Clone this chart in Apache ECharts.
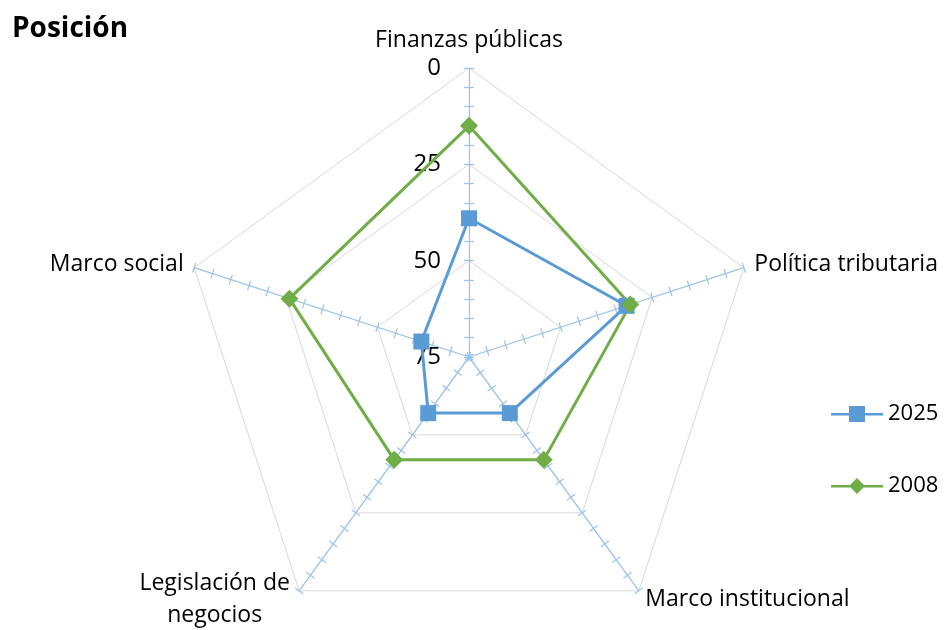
<!DOCTYPE html>
<html>
<head>
<meta charset="utf-8">
<script src="https://cdn.jsdelivr.net/npm/echarts@6/dist/echarts.min.js"></script>
<style>
  html, body { margin: 0; padding: 0; background: #fff; }
  #chart { width: 945px; height: 630px; }
</style>
</head>
<body>
<div id="chart"></div>
<script>
/* posición (ranking): 0 = borde exterior, 75 = centro.
   ECharts recorre el radar en sentido antihorario, por eso el orden es
   Finanzas -> Marco social -> Legislación -> Marco institucional -> Política */
const AXES     = ['Finanzas públicas', 'Marco social', 'Legislación de\nnegocios', 'Marco institucional', 'Política tributaria']
const POS_2025 = [39, 62, 57, 57, 32]
const POS_2008 = [15, 26, 42, 42, 31]
const MAX_POS = 75
const TICK_STEP = 5
const LABEL_STEP = 25

const FONT = '"Open Sans", "Noto Sans", sans-serif'
const AXIS_BLUE = '#9dc3e6'

// el eje está invertido: se dibuja MAX_POS - posición
const flip = arr => arr.map(v => MAX_POS - v)

const baseRadar = {
  center: [469, 357],
  radius: 289,
  startAngle: 90,
  splitNumber: MAX_POS / TICK_STEP,
  shape: 'polygon',
}

const tickLine = { color: AXIS_BLUE, width: 1.2 }

// ajustes finos de las etiquetas de eje
const nameStyles = [
  { padding: [0, 0, 5, 0] },
  {},
  { align: 'center', lineHeight: 32, padding: [0, 156, 0, 0] },
  {},
  {},
]

const chart = echarts.init(document.getElementById('chart'))
chart.setOption({
  backgroundColor: '#fff',
  title: {
    text: 'Posición', left: 7, top: 10,
    textStyle: { fontFamily: FONT, fontSize: 28, fontWeight: 'bold', color: '#000' },
  },
  legend: {
    orient: 'vertical', left: 826, top: 398, itemGap: 50,
    itemWidth: 52, itemHeight: 16,
    textStyle: { fontFamily: FONT, fontSize: 22, color: '#000' },
    data: [
      { name: '2025', icon: 'path://M0,7h52v2.5h-52z M18,0h16v16h-16z' },
      { name: '2008', icon: 'path://M0,7h52v2.5h-52z M26,0L34,8L26,16L18,8z' },
    ],
  },
  radar: [
    {
      ...baseRadar,
      indicator: AXES.map((name, i) => ({
        name, min: 0, max: MAX_POS,
        axisLabel: { show: i === 0 },
        nameTextStyle: nameStyles[i],
      })),
      axisName: { color: '#000', fontFamily: FONT, fontSize: 23 },
      nameGap: 11,
      axisLine: { lineStyle: { color: AXIS_BLUE, width: 1.3 } },
      axisTick: { show: true, length: 5, lineStyle: tickLine },
      axisLabel: {
        show: false, margin: 28, color: '#000', fontFamily: FONT, fontSize: 24,
        padding: [7, 0, 0, 0],
        formatter: v => (v % LABEL_STEP === 0 ? String(MAX_POS - v) : ''),
      },
      splitLine: {
        lineStyle: {
          color: ['#d9d9d9', 'rgba(0,0,0,0)', 'rgba(0,0,0,0)', 'rgba(0,0,0,0)', 'rgba(0,0,0,0)'],
          width: 1,
        },
      },
      splitArea: { show: false },
    },
    {
      // segunda capa: marcas del otro lado del eje (marcas cruzadas)
      ...baseRadar,
      indicator: AXES.map(() => ({ name: '', min: 0, max: MAX_POS })),
      axisName: { show: false },
      axisLine: { show: false },
      axisTick: { show: true, length: -5, lineStyle: tickLine },
      axisLabel: { show: false },
      splitLine: { show: false },
      splitArea: { show: false },
    },
  ],
  series: [{
    type: 'radar',
    radarIndex: 0,
    z: 5,
    data: [
      {
        name: '2025', value: flip(POS_2025),
        symbol: 'rect', symbolSize: 16,
        lineStyle: { color: '#5b9bd5', width: 3 },
        itemStyle: { color: '#5b9bd5' },
      },
      {
        name: '2008', value: flip(POS_2008),
        symbol: 'diamond', symbolSize: 18,
        lineStyle: { color: '#70ad47', width: 3 },
        itemStyle: { color: '#70ad47' },
      },
    ],
  }],
})
</script>
</body>
</html>
